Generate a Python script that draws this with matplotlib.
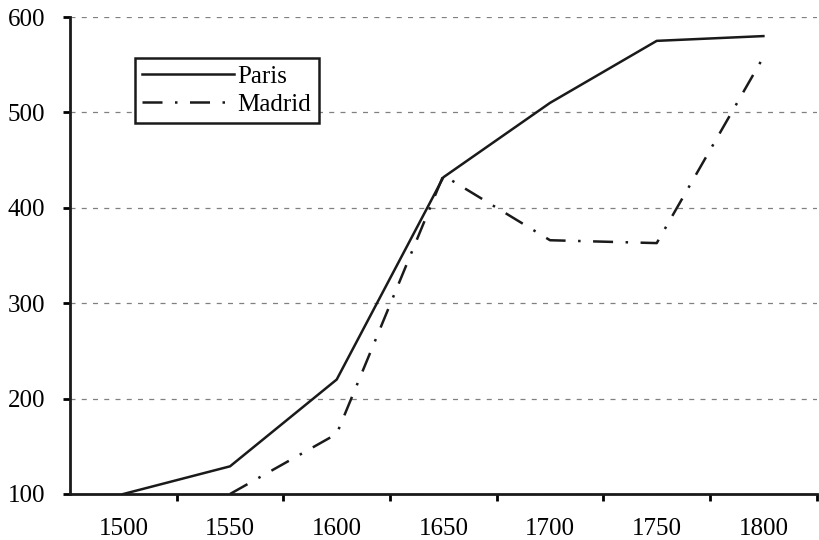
import numpy as np
import matplotlib
matplotlib.use('Agg')
import matplotlib.pyplot as plt

years = ['1500', '1550', '1600', '1650', '1700', '1750', '1800']
paris = [100, 129, 220, 432, 510, 575, 580]
madrid = [np.nan, 100, 163, 434, 366, 363, 558]

plt.rcParams['font.family'] = ['Liberation Serif', 'DejaVu Serif']

fig = plt.figure(figsize=(8.2, 5.4), dpi=100)
ax = fig.add_axes([0.0854, 0.0852, 0.9106, 0.8833])

x = np.arange(len(years))
ax.plot(x, paris, color='#1a1a1a', lw=1.8, label='Paris')
ax.plot(x, madrid, color='#1a1a1a', lw=1.8, linestyle=(0, (8, 5, 1, 5)), label='Madrid')

ax.set_xlim(-0.5, len(years) - 0.5)
ax.set_ylim(100, 600)
ax.set_yticks([100, 200, 300, 400, 500, 600])
ax.yaxis.grid(True, linestyle=(0, (4, 5)), color='#808080', lw=0.9)
ax.set_axisbelow(True)

# tick marks between categories, labels at category centres
ax.set_xticks(x + 0.5)
ax.set_xticklabels([])
ax.set_xticks(x, minor=True)
ax.set_xticklabels(years, minor=True)
ax.tick_params(axis='x', which='major', length=5, width=2, direction='out')
ax.tick_params(axis='x', which='minor', length=0, pad=17, labelsize=18)
ax.tick_params(axis='y', length=5, width=2, direction='out', pad=13, labelsize=18)

for s in ['top', 'right']:
    ax.spines[s].set_visible(False)
for s in ['left', 'bottom']:
    ax.spines[s].set_linewidth(2)
    ax.spines[s].set_color('#1a1a1a')

leg = ax.legend(loc='upper left', bbox_to_anchor=(0.087, 0.914), fontsize=18,
                frameon=True, fancybox=False, edgecolor='#1a1a1a', framealpha=1,
                handlelength=3.65, handletextpad=0.15, borderpad=0.3,
                labelspacing=0.2, borderaxespad=0)
leg.get_frame().set_linewidth(1.8)

fig.savefig('out.png', dpi=100)
